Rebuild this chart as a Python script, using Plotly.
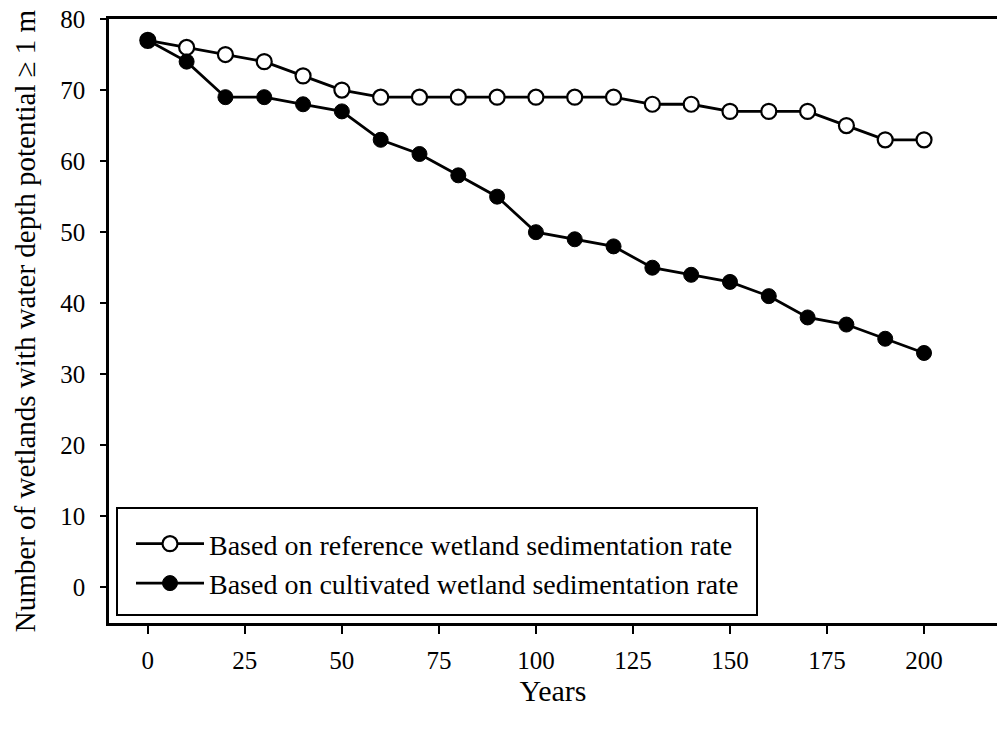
import plotly.graph_objects as go

# Simulation years and wetland counts for the two sedimentation scenarios
years = [0, 10, 20, 30, 40, 50, 60, 70, 80, 90, 100,
         110, 120, 130, 140, 150, 160, 170, 180, 190, 200]
reference_rate = [77, 76, 75, 74, 72, 70, 69, 69, 69, 69, 69,
                  69, 69, 68, 68, 67, 67, 67, 65, 63, 63]
cultivated_rate = [77, 74, 69, 69, 68, 67, 63, 61, 58, 55, 50,
                   49, 48, 45, 44, 43, 41, 38, 37, 35, 33]

x_ticks = [0, 25, 50, 75, 100, 125, 150, 175, 200]
y_ticks = [0, 10, 20, 30, 40, 50, 60, 70, 80]

FONT = "Liberation Serif"

fig = go.Figure()
fig.add_trace(go.Scatter(
    x=years, y=reference_rate, mode="lines+markers",
    name="Based on reference wetland sedimentation rate",
    line=dict(color="black", width=2.8),
    marker=dict(symbol="circle", size=15, color="white",
                line=dict(color="black", width=2.2)),
))
fig.add_trace(go.Scatter(
    x=years, y=cultivated_rate, mode="lines+markers",
    name="Based on cultivated wetland sedimentation rate",
    line=dict(color="black", width=2.8),
    marker=dict(symbol="circle", size=15, color="black",
                line=dict(color="black", width=1)),
))

# legend frame
fig.add_shape(type="rect", xref="paper", yref="paper",
              x0=8 / 888, x1=648 / 888, y0=8 / 604, y1=115 / 604,
              line=dict(color="black", width=2), fillcolor="white",
              layer="below")

fig.update_layout(
    width=997, height=729,
    margin=dict(l=109, r=0, t=19, b=106),
    paper_bgcolor="white", plot_bgcolor="white",
    font=dict(family=FONT, color="black", size=24),
    showlegend=True,
    legend=dict(
        x=22 / 888, y=104 / 604, xanchor="left", yanchor="top",
        bgcolor="rgba(0,0,0,0)", borderwidth=0,
        font=dict(family=FONT, size=28, color="black"),
        itemwidth=68, tracegroupgap=0,
    ),
    xaxis=dict(
        range=[-10, 218.8], tickvals=x_ticks,
        showline=True, linecolor="black", linewidth=2.5, mirror=True,
        ticks="outside", ticklen=8, tickwidth=2, tickcolor="black",
        ticklabelstandoff=5,
        showgrid=False, zeroline=False,
        tickfont=dict(family=FONT, size=25),
        title=dict(text="Years", font=dict(family=FONT, size=30), standoff=4),
    ),
    yaxis=dict(
        range=[-5, 80], tickvals=y_ticks,
        showline=True, linecolor="black", linewidth=2.5,
        ticks="outside", ticklen=6, tickwidth=2, tickcolor="black",
        ticklabelstandoff=10,
        showgrid=False, zeroline=False,
        tickfont=dict(family=FONT, size=25),
        title=dict(text="Number of wetlands with water depth potential ≥ 1 m",
                   font=dict(family=FONT, size=29), standoff=17),
    ),
)

fig.write_html("out.html")
